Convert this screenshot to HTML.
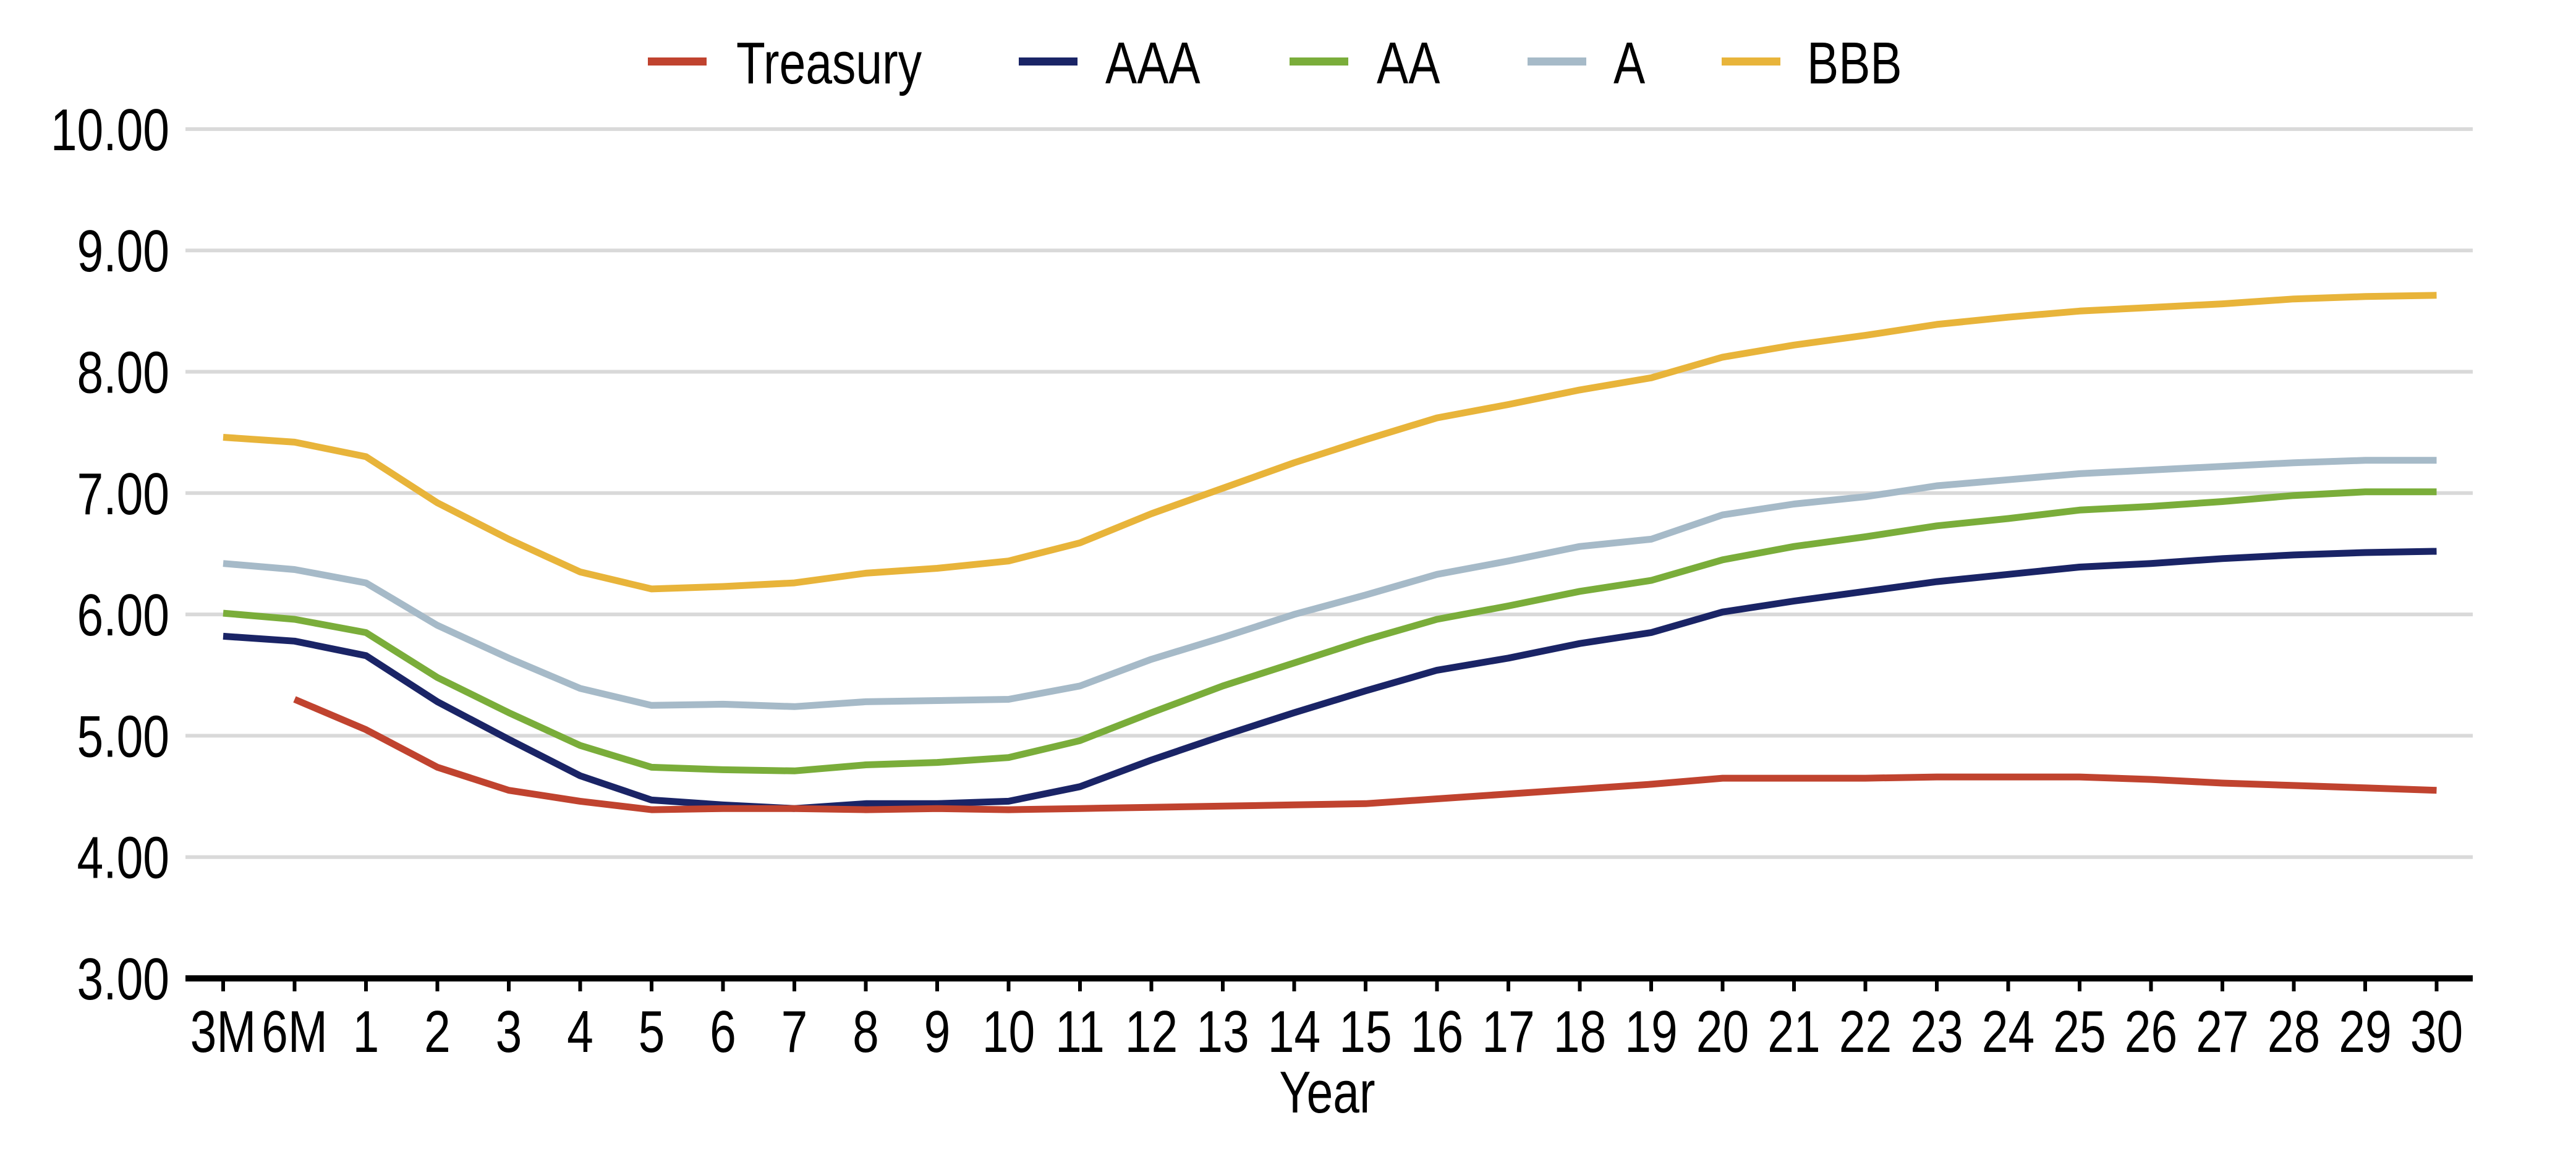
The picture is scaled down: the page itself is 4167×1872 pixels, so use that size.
<!DOCTYPE html>
<html><head><meta charset="utf-8"><style>
html,body{margin:0;padding:0;background:#fff;}
svg{display:block;}
text{font-family:"Liberation Sans Narrow","Liberation Sans",sans-serif;fill:#000;}
</style></head><body>
<svg id="c" width="4167" height="1872" viewBox="0 0 4167 1872" xmlns="http://www.w3.org/2000/svg">
<g id="grid" stroke="#d9d9d9" stroke-width="6"></g>
<g id="ylab" font-size="96" text-anchor="end"></g>
<line x1="300" y1="1583" x2="4000" y2="1583" stroke="#000" stroke-width="10"/>
<g id="ticks" stroke="#000" stroke-width="6"></g>
<g id="xlab" font-size="96" text-anchor="middle"></g>
<g id="series" fill="none" stroke-width="11" stroke-linejoin="round"></g>
<text x="2147" y="1800" font-size="96" text-anchor="middle" transform="translate(2147 0) scale(0.8 1) translate(-2147 0)">Year</text>
<g font-size="96">
<rect x="1048" y="93" width="95" height="13" fill="#c0432f"/>
<text x="1191" y="135" transform="translate(1191 0) scale(0.8 1) translate(-1191 0)">Treasury</text>
<rect x="1648" y="93" width="95" height="13" fill="#1a2466"/>
<text x="1788" y="135" transform="translate(1788 0) scale(0.8 1) translate(-1788 0)">AAA</text>
<rect x="2086" y="93" width="95" height="13" fill="#7aad3a"/>
<text x="2227" y="135" transform="translate(2227 0) scale(0.8 1) translate(-2227 0)">AA</text>
<rect x="2471" y="93" width="95" height="13" fill="#a6bac8"/>
<text x="2610" y="135" transform="translate(2610 0) scale(0.8 1) translate(-2610 0)">A</text>
<rect x="2785" y="93" width="95" height="13" fill="#e8b43a"/>
<text x="2923" y="135" transform="translate(2923 0) scale(0.8 1) translate(-2923 0)">BBB</text>
</g>
</svg>
<script>
var NS="http://www.w3.org/2000/svg";
function X(i){return 361+115.5*i;}
function Y(v){return 1583-(v-3)*196.3;}
function el(p,t,a,txt){var e=document.createElementNS(NS,t);for(var k in a)e.setAttribute(k,a[k]);if(txt!==undefined)e.textContent=txt;document.getElementById(p).appendChild(e);return e;}
for(var v=4;v<=10;v++){el("grid","line",{x1:300,x2:4000,y1:Y(v),y2:Y(v)});}
for(var v=3;v<=10;v++){el("ylab","text",{x:274,y:Y(v)+34,transform:"translate(274 0) scale(0.8 1) translate(-274 0)"},v.toFixed(2));}
var labs=["3M","6M"];for(var i=1;i<=30;i++)labs.push(""+i);
for(var i=0;i<32;i++){var x=X(i);el("ticks","line",{x1:x,x2:x,y1:1583,y2:1604});
el("xlab","text",{x:x,y:1702,transform:"translate("+x+" 0) scale(0.8 1) translate("+(-x)+" 0)"},labs[i]);}
var S=[
["#a6bac8",[6.42,6.37,6.26,5.91,5.64,5.39,5.25,5.26,5.24,5.28,5.29,5.30,5.41,5.63,5.81,6.00,6.16,6.33,6.44,6.56,6.62,6.82,6.91,6.97,7.06,7.11,7.16,7.19,7.22,7.25,7.27,7.27]],
["#e8b43a",[7.46,7.42,7.30,6.92,6.62,6.35,6.21,6.23,6.26,6.34,6.38,6.44,6.59,6.83,7.04,7.25,7.44,7.62,7.73,7.85,7.95,8.12,8.22,8.30,8.39,8.45,8.50,8.53,8.56,8.60,8.62,8.63]],
["#7aad3a",[6.01,5.96,5.85,5.48,5.19,4.92,4.74,4.72,4.71,4.76,4.78,4.82,4.96,5.19,5.41,5.60,5.79,5.96,6.07,6.19,6.28,6.45,6.56,6.64,6.73,6.79,6.86,6.89,6.93,6.98,7.01,7.01]],
["#1a2466",[5.82,5.78,5.66,5.28,4.97,4.67,4.47,4.43,4.40,4.44,4.44,4.46,4.58,4.80,5.00,5.19,5.37,5.54,5.64,5.76,5.85,6.02,6.11,6.19,6.27,6.33,6.39,6.42,6.46,6.49,6.51,6.52]],
["#c0432f",[null,5.30,5.05,4.74,4.55,4.46,4.39,4.40,4.40,4.39,4.40,4.39,4.40,4.41,4.42,4.43,4.44,4.48,4.52,4.56,4.60,4.65,4.65,4.65,4.66,4.66,4.66,4.64,4.61,4.59,4.57,4.55]]
];
S.forEach(function(s){var p=[];s[1].forEach(function(v,i){if(v!==null)p.push(X(i).toFixed(1)+","+Y(v).toFixed(1));});
el("series","polyline",{points:p.join(" "),stroke:s[0]});});
</script>
</body></html>
